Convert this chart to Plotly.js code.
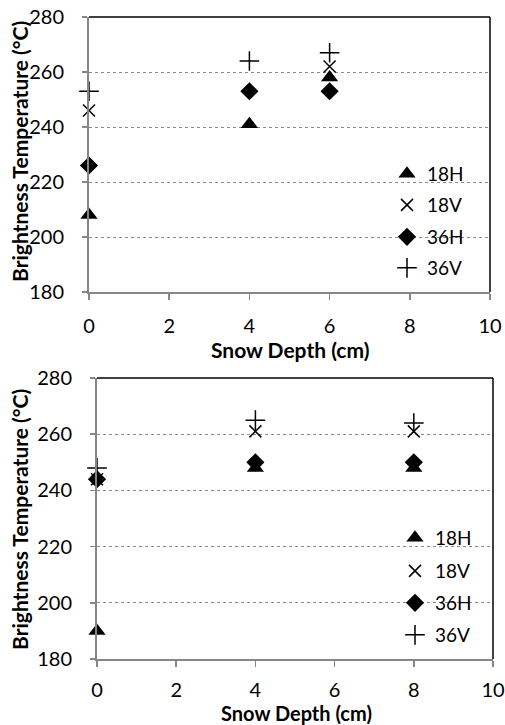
<!DOCTYPE html>
<html>
<head>
<meta charset="utf-8">
<script src="https://cdn.plot.ly/plotly-3.0.1.min.js"></script>
<style>html,body{margin:0;padding:0;background:#fff;}#chart{width:505px;height:725px;}</style>
</head>
<body>
<div id="chart"></div>
<script>
// Top chart data
const depthTop = [0, 4, 6];
const top18H = [208, 241, 258];
const top18V = [246, null, 262];
const top36H = [226, 253, 253];
const top36V = [253, 264, 267];
// Bottom chart data
const depthBot = [0, 4, 8];
const bot18H = [190, 248, 248];
const bot18V = [244, 261, 261];
const bot36H = [244, 250, 250];
const bot36V = [248, 265, 264];

const seriesNames = ['18H', '18V', '36H', '36V'];
const xTickVals = [0, 2, 4, 6, 8, 10];
const yTickVals = [180, 200, 220, 240, 260, 280];
const xTitle = 'Snow Depth (cm)';
const yTitle = 'Brightness Temperature (°C)';

const FONT = 'Lato, "Open Sans", sans-serif';
const markerDefs = {
  '18H': {symbol: 'triangle-up', size: 15, color: '#000'},
  '18V': {symbol: 'x-thin-open', size: 12, color: '#000', line: {width: 1.5, color: '#000'}},
  '36H': {symbol: 'diamond', size: 14, color: '#000'},
  '36V': {symbol: 'cross-thin-open', size: 14, color: '#000', line: {width: 1.5, color: '#000'}}
};

function mk(x, y, name, xa, ya, leg) {
  return {x: x, y: y, name: name, type: 'scatter', mode: 'markers',
    xaxis: xa, yaxis: ya, legend: leg, marker: markerDefs[name], cliponaxis: false};
}

const W = 505, H = 725;
const data = [];
const legends = {};
const topLegY = [174, 205, 237, 268];
const botLegY = [538, 571, 603, 635];
let legIdx = 1;
function addChart(xv, ys, xa, ya, legX, legYs) {
  ys.forEach(function (yv, i) {
    const key = legIdx === 1 ? 'legend' : 'legend' + legIdx;
    data.push(mk(xv, yv, seriesNames[i], xa, ya, key));
    legends[key] = {x: legX / W, y: 1 - legYs[i] / H, xanchor: 'left', yanchor: 'middle',
      bgcolor: 'rgba(0,0,0,0)', borderwidth: 0,
      font: {family: FONT, size: 19, color: '#000'}, itemwidth: 30};
    legIdx++;
  });
}
addChart(depthTop, [top18H, top18V, top36H, top36V], 'x', 'y', 387, topLegY);
addChart(depthBot, [bot18H, bot18V, bot36H, bot36V], 'x2', 'y2', 395, botLegY);

function xaxisDef(dom, anchor, standoff) {
  return {domain: dom, anchor: anchor, range: [0, 10], tickvals: xTickVals,
    showgrid: false, zeroline: false, showline: true, linecolor: '#868686', linewidth: 2,
    ticks: 'outside', ticklen: 6, tickwidth: 1.5, tickcolor: '#868686', ticklabelstandoff: standoff,
    tickfont: {family: FONT, size: 20, color: '#000'}, automargin: false};
}
function yaxisDef(dom, anchor) {
  return {domain: dom, anchor: anchor, range: [180, 280], tickvals: yTickVals,
    showgrid: true, gridcolor: '#8c8c8c', griddash: 'dot', gridwidth: 1, zeroline: false,
    showline: true, linecolor: '#868686', linewidth: 2,
    ticks: 'outside', ticklen: 5, tickwidth: 1.5, tickcolor: '#868686', ticklabelstandoff: 14,
    tickfont: {family: FONT, size: 20, color: '#000'}, automargin: false};
}
function titleAnn(text, x, y, angle, size) {
  return {text: '<b>' + text + '</b>', xref: 'paper', yref: 'paper', x: x / W, y: 1 - y / H,
    xanchor: 'center', yanchor: 'middle', showarrow: false, textangle: angle,
    font: {family: FONT, size: size, color: '#000', weight: 'bold'}};
}

const layout = Object.assign({
  width: W, height: H, margin: {l: 0, r: 0, t: 0, b: 0},
  paper_bgcolor: '#fff', plot_bgcolor: '#fff',
  font: {family: FONT, color: '#000'},
  xaxis: xaxisDef([89 / W, 490 / W], 'y', 9),
  yaxis: yaxisDef([1 - 292 / H, 1 - 17 / H], 'x'),
  xaxis2: xaxisDef([97 / W, 493 / W], 'y2', 6),
  yaxis2: yaxisDef([1 - 659 / H, 1 - 378 / H], 'x2'),
  annotations: [
    titleAnn(xTitle, 290, 349, 0, 21),
    titleAnn(xTitle, 296, 713, 0, 20),
    titleAnn(yTitle, 19, 152, -90, 21),
    titleAnn(yTitle, 19, 520, -90, 21)
  ],
  shapes: [
    {type: 'line', xref: 'x domain', yref: 'y domain', x0: 0, x1: 1, y0: 1, y1: 1, line: {color: '#000', width: 1.5}},
    {type: 'line', xref: 'x domain', yref: 'y domain', x0: 1, x1: 1, y0: 0, y1: 1, line: {color: '#000', width: 1.5}},
    {type: 'line', xref: 'x2 domain', yref: 'y2 domain', x0: 0, x1: 1, y0: 1, y1: 1, line: {color: '#000', width: 1.5}},
    {type: 'line', xref: 'x2 domain', yref: 'y2 domain', x0: 1, x1: 1, y0: 0, y1: 1, line: {color: '#000', width: 1.5}}
  ],
  showlegend: true
}, legends);

Plotly.newPlot('chart', data, layout, {staticPlot: true, displayModeBar: false});
</script>
</body>
</html>
